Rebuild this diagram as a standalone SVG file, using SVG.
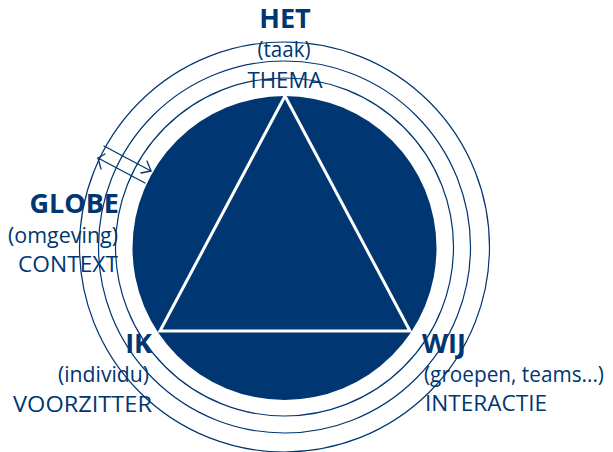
<svg xmlns="http://www.w3.org/2000/svg" width="613" height="452" viewBox="0 0 613 452">
  <style>
    .ring { fill: none; stroke: #003671; stroke-width: 1.2; }
    .core { fill: #003671; }
    .tri { fill: none; stroke: #ffffff; stroke-width: 3; stroke-linejoin: miter; }
    .dim { fill: none; stroke: #003671; stroke-width: 1.3; stroke-linecap: round; stroke-linejoin: round; }
    text { font-family: "Open Sans", "Noto Sans", "Liberation Sans", sans-serif; fill: #003671; }
    .title { font-weight: bold; font-size: 27px; }
    .sub { font-size: 22px; }
    .narrow { font-size: 21px; }
  </style>

  <!-- concentric rings and filled core -->
  <g id="rings">
    <circle class="ring" cx="284.5" cy="247" r="205"/>
    <circle class="ring" cx="284.5" cy="247" r="186"/>
    <circle class="ring" cx="284.5" cy="247" r="169"/>
  </g>
  <g id="core">
    <circle class="core" cx="284.5" cy="248" r="152"/>
    <polygon class="tri" points="285,96 160,331 410,331"/>
  </g>

  <!-- width marker between outer ring and core -->
  <g id="connectors">
    <path class="dim" d="M104,146 L151,171 M98,158 L145,183"/>
    <path class="dim" d="M105,154 L98,158 L101,169"/>
    <path class="dim" d="M147,161 L151,171 L141,173"/>
  </g>

  <g id="het">
    <text class="title" x="285" y="28" text-anchor="middle">HET</text>
    <text class="sub" x="284" y="57" text-anchor="middle" textLength="53" lengthAdjust="spacingAndGlyphs">(taak)</text>
    <text class="sub" x="285" y="88" text-anchor="middle" textLength="75" lengthAdjust="spacingAndGlyphs">THEMA</text>
  </g>

  <g id="globe">
    <text class="title" x="119" y="213" text-anchor="end">GLOBE</text>
    <text class="sub" x="118" y="243" text-anchor="end" textLength="110" lengthAdjust="spacingAndGlyphs">(omgeving)</text>
    <text class="sub" x="118" y="272" text-anchor="end" textLength="100" lengthAdjust="spacingAndGlyphs">CONTEXT</text>
  </g>

  <g id="ik">
    <text class="title" x="152" y="353" text-anchor="end">IK</text>
    <text class="sub" x="149" y="382" text-anchor="end" textLength="91" lengthAdjust="spacingAndGlyphs">(individu)</text>
    <text class="sub" x="152" y="412" text-anchor="end" textLength="139" lengthAdjust="spacingAndGlyphs">VOORZITTER</text>
  </g>

  <g id="wij">
    <text class="title" x="422" y="353">WIJ</text>
    <text class="narrow" x="424" y="382" textLength="180" lengthAdjust="spacingAndGlyphs">(groepen, teams...)</text>
    <text class="sub" x="425" y="411" textLength="122" lengthAdjust="spacingAndGlyphs">INTERACTIE</text>
  </g>
</svg>
